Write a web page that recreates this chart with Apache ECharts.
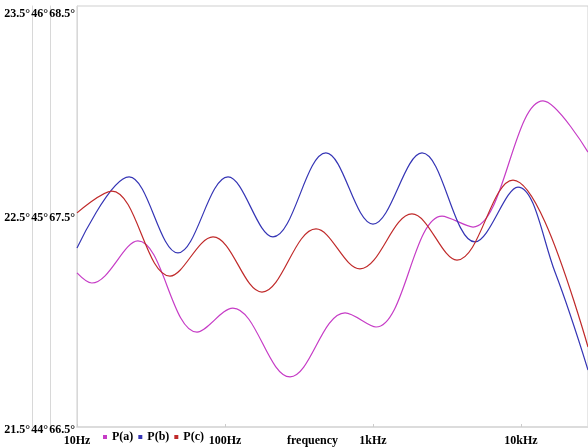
<!DOCTYPE html>
<html>
<head>
<meta charset="utf-8">
<script src="https://cdn.jsdelivr.net/npm/echarts@6/dist/echarts.min.js"></script>
<style>html,body{margin:0;padding:0;background:#fff}#c{width:588px;height:448px}</style>
</head>
<body>
<div id="c"></div>
<script>
// Frequency (Hz) / value pairs (turning points of each curve)
const freqA = [10, 12.6, 25.8, 64.7, 113, 275, 647, 1048, 2926, 4740, 14081, 28360];
const valA  = [22.232, 22.184, 22.384, 21.951, 22.065, 21.738, 22.042, 21.975, 22.502, 22.45, 23.049, 22.806];

const freqB = [10, 22.5, 48.1, 104.8, 211, 481, 1000, 2144, 4890, 9543, 16970, 28360];
const valB  = [44.85, 45.188, 44.827, 45.188, 44.903, 45.302, 44.964, 45.302, 44.879, 45.14, 44.736, 44.271];

const freqC = [10, 17.2, 42.5, 83.0, 177.8, 412, 817, 1834, 3694, 8831, 14530, 28360];
const valC  = [67.517, 67.621, 67.217, 67.403, 67.141, 67.441, 67.251, 67.512, 67.293, 67.673, 67.474, 66.88];

const seriesNames = ['P(a)', 'P(b)', 'P(c)'];
const xTickValues = [10, 100, 1000, 10000];
const xTickLabels = ['10Hz', '100Hz', '1kHz', '10kHz'];
const yTicksA = [21.5, 22.5, 23.5];
const yTicksB = [44, 45, 46];
const yTicksC = [66.5, 67.5, 68.5];
const xMin = 10, xMax = 28360;

const pairs = (xs, ys) => xs.map((x, i) => [x, ys[i]]);
const FONT = 'Liberation Serif';
const lblStyle = {color: '#000', fontFamily: FONT, fontWeight: 'bold', fontSize: 12};

function yAxis(ticks, offset) {
  const mn = ticks[0], mx = ticks[ticks.length - 1];
  return {
    type: 'value', position: 'left', offset: offset, min: mn, max: mx,
    axisLine: {show: true, lineStyle: {color: '#d8d8d8', width: 1}},
    axisTick: {show: false, customValues: ticks},
    splitLine: {show: false},
    axisLabel: Object.assign({}, lblStyle, {
      margin: 2,
      customValues: ticks,
      formatter: v => {
        const k = Math.abs(v - mx) < 1e-6 ? 't' : (Math.abs(v - mn) < 1e-6 ? 'b' : 'm');
        return '{' + k + '|' + v + '°}';
      },
      rich: {
        t: Object.assign({}, lblStyle, {padding: [16, 0, 0, 0]}),
        m: Object.assign({}, lblStyle, {padding: [3, 0, 0, 0]}),
        b: Object.assign({}, lblStyle, {padding: [5, 0, 0, 0]})
      }
    })
  };
}

const chart = echarts.init(document.getElementById('c'), null, {renderer: 'canvas'});
chart.setOption({
  animation: false,
  backgroundColor: '#fff',
  title: {text: 'frequency', left: 282, top: 430, textStyle: Object.assign({}, lblStyle)},
  legend: {
    data: seriesNames, left: 103, top: 431, icon: 'rect', itemWidth: 4, itemHeight: 4, itemGap: 5,
    padding: 0, textStyle: Object.assign({}, lblStyle)
  },
  grid: {left: 77, top: 6, bottom: 21, right: -2, show: true, borderColor: '#cfcfcf', borderWidth: 1, containLabel: false},
  xAxis: {
    type: 'log', logBase: 10, min: xMin, max: xMax,
    axisLine: {show: true, lineStyle: {color: '#dcdcdc', width: 2}},
    axisTick: {show: true, inside: true, length: 3, lineStyle: {color: '#cccccc'}},
    splitLine: {show: false},
    axisLabel: Object.assign({}, lblStyle, {
      margin: 8, showMaxLabel: false,
      formatter: v => { const i = xTickValues.findIndex(t => Math.abs(t - v) / t < 1e-6); return i >= 0 ? xTickLabels[i] : ''; }
    })
  },
  yAxis: [yAxis(yTicksC, 0), yAxis(yTicksB, 27), yAxis(yTicksA, 45)],
  series: [
    {name: seriesNames[0], type: 'line', yAxisIndex: 2, smooth: 0.37, showSymbol: false, data: pairs(freqA, valA), lineStyle: {width: 1.2, color: '#c63cc6'}, itemStyle: {color: '#c63cc6'}},
    {name: seriesNames[1], type: 'line', yAxisIndex: 1, smooth: 0.37, showSymbol: false, data: pairs(freqB, valB), lineStyle: {width: 1.2, color: '#3535b5'}, itemStyle: {color: '#3535b5'}},
    {name: seriesNames[2], type: 'line', yAxisIndex: 0, smooth: 0.37, showSymbol: false, data: pairs(freqC, valC), lineStyle: {width: 1.2, color: '#c02a2a'}, itemStyle: {color: '#c02a2a'}}
  ]
});
</script>
</body>
</html>
